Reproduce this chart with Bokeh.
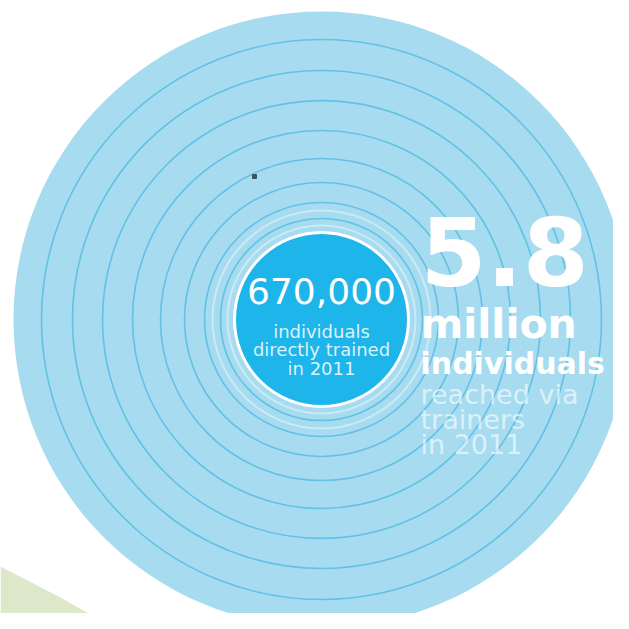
from bokeh.plotting import figure
from bokeh.models import Range1d
from bokeh.core.properties import value
from bokeh.embed import file_html
from bokeh.resources import INLINE

# ---- data ----
direct_value = ["670,000"]
direct_caption = ["individuals", "directly trained", "in 2011"]
reach_value = ["5.8"]
reach_unit = ["million"]
reach_noun = ["individuals"]
reach_caption = ["reached via", "trainers", "in 2011"]
ring_radii = [280, 249, 219, 189, 161, 137, 117, 101]

# ---- layout (pixel coordinates of the picture) ----
CX, CY = 321, 319
R_OUT, R_IN = 308, 87
FONT = value("DejaVu Sans")

p = figure(width=613, height=613, output_backend="svg", toolbar_location=None,
           x_range=Range1d(0, 613), y_range=Range1d(613, 0),
           x_axis_type=None, y_axis_type=None, min_border=0)
p.outline_line_color = None
p.grid.visible = False
p.background_fill_color = "white"
p.border_fill_color = "white"

# green wedge bottom-left
p.patch(x=[0, 60, 135, 0], y=[566, 597, 640, 640], fill_color="#dde8cb", line_color=None)
p.patch(x=[95, 135, 60], y=[618, 640, 640], fill_color="#eef3e4", line_color=None)

# big disc
p.circle(x=[CX], y=[CY], radius=R_OUT, fill_color="#a7dcf0", line_color=None)
# rings
p.circle(x=[CX] * len(ring_radii), y=[CY] * len(ring_radii), radius=ring_radii,
         fill_color=None, line_color="#62c1e5", line_width=1.6)
p.circle(x=[CX, CX], y=[CY, CY], radius=[94, 109], fill_color=None,
         line_color="white", line_alpha=0.4, line_width=2)
# inner disc
p.circle(x=[CX], y=[CY], radius=R_IN, fill_color="#1db5ea", line_color="white", line_width=3)

# dot
p.scatter(x=[254], y=[176], size=4, marker="square", color="#3d5563")

# inner texts
p.text(x=[CX], y=[290], text=direct_value, text_font=FONT, text_font_size="36px",
       text_align="center", text_baseline="middle", text_color="white")
p.text(x=[CX] * 3, y=[331, 349, 368], text=direct_caption, text_font=FONT,
       text_font_size="18px", text_align="center", text_baseline="middle",
       text_color="white", text_alpha=0.85)

# outer texts
LX = 420
p.text(x=[LX], y=[251], text=reach_value, text_font=FONT, text_font_size="95px",
       text_font_style="bold", text_align="left", text_baseline="middle",
       text_color="white")
p.text(x=[LX], y=[323], text=reach_unit, text_font=FONT, text_font_size="41px",
       text_font_style="bold", text_align="left", text_baseline="middle",
       text_color="white")
p.text(x=[LX], y=[363], text=reach_noun, text_font=FONT, text_font_size="30px",
       text_font_style="bold", text_align="left", text_baseline="middle",
       text_color="white")
p.text(x=[LX] * 3, y=[394, 419, 444], text=reach_caption, text_font=FONT,
       text_font_size="27px", text_align="left", text_baseline="middle",
       text_color="white", text_alpha=0.6)

open("out.html", "w").write(file_html(p, INLINE))
